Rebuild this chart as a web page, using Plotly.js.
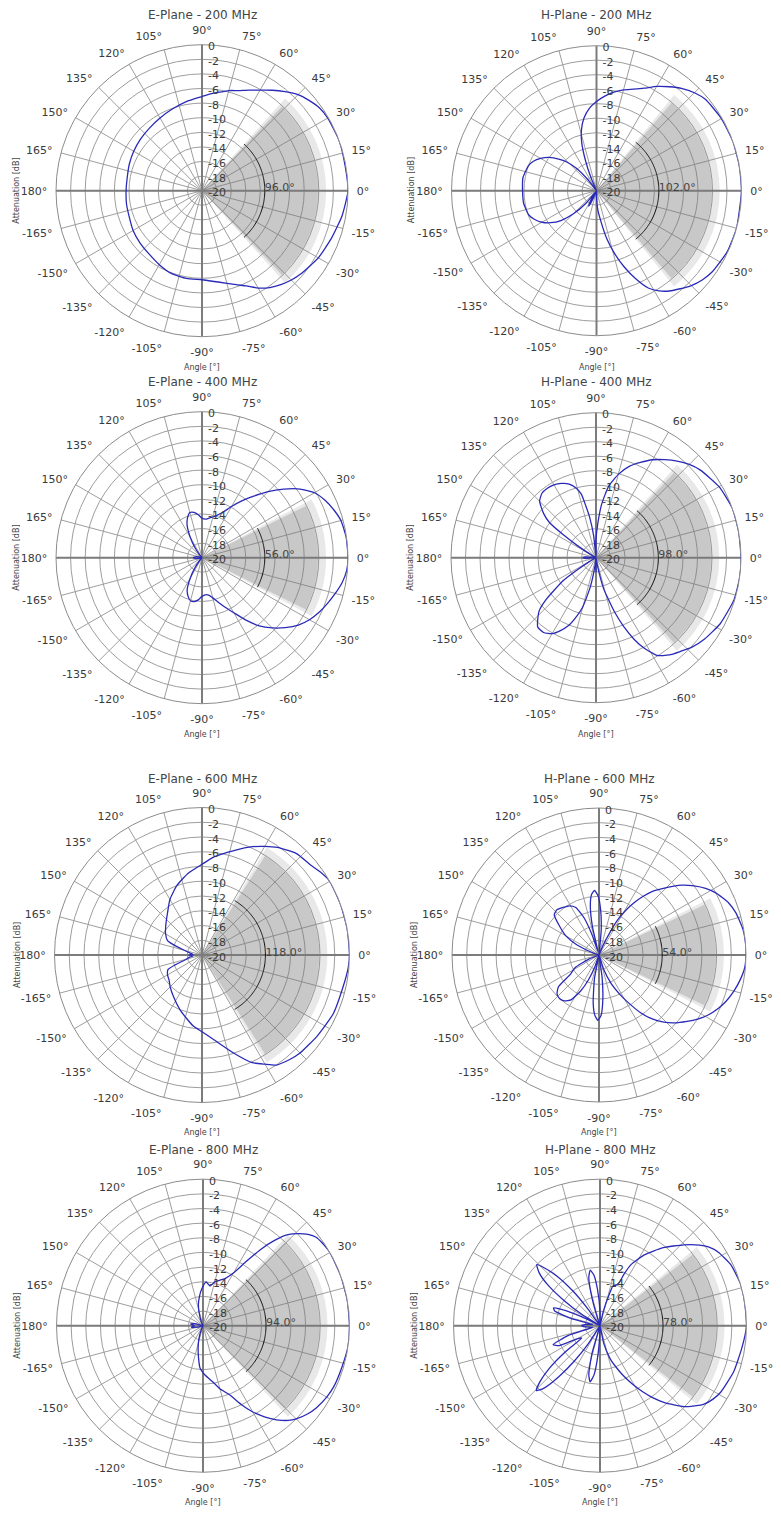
<!DOCTYPE html>
<html><head><meta charset="utf-8">
<script src="https://cdn.plot.ly/plotly-3.0.1.min.js"></script>
<style>html,body{margin:0;padding:0;background:#fff}#chart{width:781px;height:1515px}</style>
</head><body><div id="chart"></div>
<script>
const plotTitles = ['E-Plane - 200 MHz','H-Plane - 200 MHz','E-Plane - 400 MHz','H-Plane - 400 MHz','E-Plane - 600 MHz','H-Plane - 600 MHz','E-Plane - 800 MHz','H-Plane - 800 MHz'];
const beamwidths = [96, 102, 56, 98, 118, 54, 94, 78];
const angleTickVals = [0,15,30,45,60,75,90,105,120,135,150,165,180,195,210,225,240,255,270,285,300,315,330,345];
const angleTickText = ['0°','15°','30°','45°','60°','75°','90°','105°','120°','135°','150°','165°','180°','-165°','-150°','-135°','-120°','-105°','-90°','-75°','-60°','-45°','-30°','-15°'];
const radialTickVals = [-20,-18,-16,-14,-12,-10,-8,-6,-4,-2,0];
const radialTickText = ['-20','-18','-16','-14','-12','-10','-8','-6','-4','-2','0'];
const radialRange = [-20, 0];
const halfPowerLevel = -3;
const arcLevel = -11.4;

const e200Theta = [0,10,20,30,35,40,45,50,55,60,65,70,75,80,85,90,100,110,120,130,140,150,160,170,180,-170,-160,-150,-140,-130,-120,-110,-100,-90,-80,-70,-65,-60,-55,-50,-45,-40,-30,-20,-10,0];
const e200Db    = [0,-0.1,0,-0.1,-0.3,-0.8,-1.4,-2.3,-3.2,-4.1,-4.8,-5.4,-5.8,-6.3,-6.7,-7.1,-7.6,-8.1,-8.5,-8.8,-9.0,-9.2,-9.4,-9.6,-9.6,-9.5,-9.4,-9.1,-8.9,-8.7,-8.3,-7.9,-7.8,-7.8,-7.3,-6.3,-5.6,-4.6,-3.8,-3.2,-2.7,-2.3,-1.6,-1.1,-0.5,0];

const h200Theta = [0,10,20,30,40,45,50,55,60,65,70,75,80,85,90,95,100,104,107,110,113,117,124,128,132,136,140,145,150,155,160,170,180,-170,-160,-155,-150,-145,-140,-135,-130,-126,-121,-117,-113,-108,-95,-90,-86,-82,-78,-74,-70,-66,-62,-58,-54,-50,-45,-40,-35,-25,-15,0];
const h200Db    = [0,0,0,-0.1,-0.4,-0.9,-1.6,-2.5,-3.4,-4.4,-5.1,-5.6,-6.2,-6.9,-7.7,-8.6,-9.9,-11.4,-13.0,-15.5,-18.0,-20,-20,-18,-15.8,-14.3,-13.2,-12.0,-11.1,-10.4,-10.0,-9.7,-9.8,-9.8,-10.1,-10.6,-11.3,-12.3,-13.6,-15.5,-17.8,-20,-18.5,-17.6,-19,-20,-20,-19,-17.3,-15.8,-13.3,-11.0,-8.8,-6.7,-4.8,-3.7,-2.9,-2.3,-1.5,-0.9,-0.5,-0.1,0,0];

const e400Theta = [0,8,15,20,25,30,35,40,45,50,55,60,65,70,75,80,85,90,95,100,105,110,115,120,125,130,140,160,170,180,-170,-160,-140,-130,-125,-120,-115,-110,-105,-100,-95,-90,-85,-80,-75,-70,-65,-60,-55,-50,-45,-40,-35,-30,-25,-20,-15,-10,-5,0];
const e400Db    = [0,-0.05,-0.3,-0.8,-1.4,-2.2,-3.6,-5.4,-7.2,-9.0,-10.5,-11.9,-13.1,-13.8,-14.2,-14.5,-14.7,-14.6,-14.1,-13.7,-13.6,-14.2,-15.2,-16.8,-18.3,-19.5,-20,-20,-19.2,-18.8,-19.2,-20,-20,-19.5,-18.3,-16.8,-15.2,-14.4,-13.9,-13.9,-14.2,-14.7,-14.9,-14.8,-14.3,-13.5,-12.5,-11.3,-9.6,-7.8,-6.4,-5.1,-3.9,-3.0,-2.3,-1.7,-1.1,-0.5,-0.1,0];

const h400Theta = [0,10,20,30,40,45,50,55,60,65,70,75,80,84,87,90,93,96,99,101,103,106,110,115,120,125,130,135,140,143,145,147,150,155,170,176,180,-176,-170,-155,-150,-147,-145,-142,-140,-137,-133,-130,-125,-120,-116,-112,-108,-105,-101,-97,-93,-90,-87,-80,-76,-74,-71,-68,-65,-62,-58,-53,-48,-43,-37,-28,-17,-8,0];
const h400Db    = [0,0,0,-0.4,-1.2,-1.8,-2.6,-3.5,-4.4,-5.5,-6.6,-8.1,-10.0,-12.6,-15.3,-17.5,-20,-17,-14.3,-12.8,-11.0,-10.0,-9.2,-8.7,-8.4,-8.3,-8.4,-9.0,-10.6,-12.0,-14.5,-17,-19.5,-20,-20,-18.5,-18.2,-18.5,-20,-20,-19,-17,-14.5,-12.6,-11.0,-9.3,-8.2,-7.5,-7.4,-7.9,-8.8,-9.9,-11.6,-13.0,-15.9,-19,-20,-18,-20,-19,-15.5,-14.4,-12,-9.7,-7.6,-5.9,-4.1,-3.2,-2.6,-1.9,-1.3,-0.6,-0.1,0,0];

const e600Theta = [0,10,20,30,35,40,47,55,60,65,73,83,90,100,110,120,130,140,150,157,160,165,170,175,180,-175,-170,-165,-160,-157,-150,-143,-135,-125,-112,-105,-97,-90,-82,-72,-65,-60,-56,-50,-45,-35,-24,-13,-5,0];
const e600Db    = [0,0,0,0,-0.4,-0.9,-1.2,-2.2,-3.0,-3.8,-5.2,-6.6,-7.7,-8.8,-10.0,-11.3,-12.7,-13.6,-14.3,-14.9,-15.8,-17.5,-18.3,-18.8,-18.2,-18.8,-18.3,-17.8,-16.2,-15.0,-14.6,-14.4,-13.9,-13.2,-12.0,-11.3,-10.3,-9.6,-8.4,-6.0,-3.9,-2.9,-2.0,-1.5,-1.2,-0.9,-0.5,-0.4,-0.1,0];

const h600Theta = [0,5,10,17,22,25,28,32,36,40,43,46,50,53,56,59,62,64,67,72,82,85,88,91,94,97,100,103,106,109,112,116,121,127,133,138,144,150,155,160,165,-165,-158,-152,-146,-142,-137,-132,-127,-122,-117,-113,-109,-105,-101,-97,-94,-91,-88,-85,-82,-78,-72,-67,-62,-58,-54,-50,-46,-42,-37,-33,-29,-24,-20,-15,-10,-5,0];
const h600Db    = [0,0,-0.1,-0.5,-1.0,-1.5,-2.0,-2.9,-4.0,-5.2,-6.3,-7.4,-8.7,-10.0,-11.4,-12.9,-14.6,-16.5,-18.5,-20,-20,-16.5,-13.8,-11.9,-11.2,-11.7,-13.2,-16.0,-19.5,-17.0,-14.5,-12.8,-12.2,-11.9,-11.6,-11.8,-13.4,-14.8,-16.6,-19,-20,-20,-18.5,-16.3,-15.3,-13.0,-12.2,-12.0,-12.2,-12.8,-14.5,-16.3,-18.5,-20,-16.8,-13.5,-11.8,-11.1,-11.8,-14,-17,-20,-18,-15.8,-13.9,-12.2,-10.2,-8.6,-7.3,-6.2,-5.0,-4.0,-3.1,-2.2,-1.6,-1.0,-0.5,-0.1,0];

const e800Theta = [0,10,20,30,35,38,41,44,47,50,53,56,60,65,70,75,80,86,92,97,102,106,115,140,165,172,180,-172,-165,-140,-115,-106,-102,-98,-94,-88,-80,-75,-69,-64,-60,-56,-52,-48,-45,-40,-36,-30,-25,-16,-8,0];
const e800Db    = [0,0,0,0,-0.2,-0.4,-1.0,-1.9,-3.0,-4.8,-7.0,-9.4,-11.7,-12.9,-13.4,-13.8,-14.5,-14.0,-15.0,-16.0,-17.0,-18.0,-19.5,-20,-19.0,-18.3,-18.8,-18.4,-19.2,-20,-19.5,-17.8,-16.8,-15.6,-14.2,-13.3,-12.2,-11.1,-9.9,-8.0,-6.4,-5.0,-3.7,-2.6,-2.0,-1.3,-0.9,-0.5,-0.3,-0.2,0,0];

const h800Theta = [0,9,17,25,32,36,39,44,51,58,63,65,66,69,72,74,77,80,86,90,94,97,100,103,106,109,120,126,128,131,134,136,139,142,145,148,151,153,156,159,162,166,170,175,180,-175,-168,-163,-158,-154,-150,-146,-143,-140,-137,-134.5,-132,-129,-126,-123,-120,-110,-106,-103,-100,-97,-94,-90,-84,-78,-73,-69,-65,-61,-57,-54,-50,-44,-39,-37,-33,-29,-19,-9,0];
const h800Db    = [0,0,0,-0.3,-1.0,-1.7,-2.5,-4.1,-6.3,-8.6,-10.6,-12.2,-13.6,-14.1,-14.3,-15.9,-18,-20,-20,-18,-15,-13.0,-12.3,-13.2,-16,-19.5,-20,-17,-14,-11,-9,-8.0,-9,-11,-14,-17,-20,-18,-15,-13.2,-13.5,-16,-19,-18,-17.5,-18,-19,-15.5,-13.1,-13.8,-16.5,-17,-14,-11,-8.8,-7.6,-8.5,-11,-14,-17,-20,-20,-16,-13.2,-12.2,-13.2,-16,-19.5,-20,-17.5,-15.3,-14.0,-12.5,-10.9,-9.2,-7.9,-6.3,-4.1,-2.7,-2.2,-1.6,-1.2,-0.7,-0.4,0];

const patternThetas = [e200Theta,h200Theta,e400Theta,h400Theta,e600Theta,h600Theta,e800Theta,h800Theta];
const patternDbs    = [e200Db,h200Db,e400Db,h400Db,e600Db,h600Db,e800Db,h800Db];

// layout geometry (pixels)
const W = 781, H = 1515;
const centers = [[202,190.7],[596.5,190.7],[202,557.7],[596,557.7],[202,955],[599,955],[203,1325.7],[600,1325.7]];
const radii = [146,145,146,145,147.5,147,146.5,146.5];

const font = 'DejaVu Sans, Verdana, sans-serif';
const traces = [];
const layout = {width:W, height:H, margin:{l:0,r:0,t:0,b:0}, paper_bgcolor:'#fff', showlegend:false, annotations:[]};

for (let i = 0; i < 8; i++) {
  const sp = i === 0 ? 'polar' : 'polar' + (i + 1);
  const bw = beamwidths[i];
  const [cx, cy] = centers[i];
  const R = radii[i];
  // shaded half-power sector (light edge + darker core)
  traces.push({type:'barpolar', subplot:sp, r:[halfPowerLevel - radialRange[0]], base:[radialRange[0]], theta:[0], width:[bw],
    marker:{color:'rgba(120,120,120,0.17)', line:{width:0}}, hoverinfo:'skip'});
  traces.push({type:'barpolar', subplot:sp, r:[halfPowerLevel - 1.1 - radialRange[0]], base:[radialRange[0]], theta:[0], width:[bw - 3],
    marker:{color:'rgba(120,120,120,0.28)', line:{width:0}}, hoverinfo:'skip'});
  // main axes through centre
  traces.push({type:'scatterpolar', subplot:sp, mode:'lines', r:[radialRange[1], radialRange[0], radialRange[1]], theta:[0,0,180],
    line:{color:'#7c7c7c', width:2}, hoverinfo:'skip'});
  traces.push({type:'scatterpolar', subplot:sp, mode:'lines', r:[radialRange[1], radialRange[0], radialRange[1]], theta:[90,90,270],
    line:{color:'#7c7c7c', width:2}, hoverinfo:'skip'});
  // beamwidth arc
  const arcT = [], arcR = [];
  for (let a = -bw / 2; a <= bw / 2 + 1e-9; a += 1) { arcT.push(a); arcR.push(arcLevel); }
  traces.push({type:'scatterpolar', subplot:sp, mode:'lines', r:arcR, theta:arcT, line:{color:'#111', width:1}, hoverinfo:'skip'});
  // pattern
  traces.push({type:'scatterpolar', subplot:sp, mode:'lines', r:patternDbs[i], theta:patternThetas[i],
    line:{color:'#2a2ab8', width:1.3, shape:'spline', smoothing:0.5}});
  // beamwidth label
  traces.push({type:'scatterpolar', subplot:sp, mode:'text', r:[arcLevel], theta:[2], text:[bw.toFixed(1) + '°'],
    textposition:'middle right', textfont:{family:font, size:11, color:'#444'}, hoverinfo:'skip'});

  layout[sp] = {
    domain:{x:[(cx - R) / W, (cx + R) / W], y:[1 - (cy + R) / H, 1 - (cy - R) / H]},
    bgcolor:'rgba(0,0,0,0)',
    barmode:'overlay',
    bargap:0,
    radialaxis:{range:radialRange, tickmode:'array', tickvals:radialTickVals, ticktext:radialTickText, angle:90,
      showline:false, gridcolor:'#9e9e9e', gridwidth:1, ticks:'', layer:'above traces',
      tickfont:{family:font, size:11, color:'#3a3a3a'}},
    angularaxis:{rotation:0, direction:'counterclockwise', tickmode:'array', tickvals:angleTickVals, ticktext:angleTickText,
      showline:true, linecolor:'#8c8c8c', linewidth:1, gridcolor:'#9e9e9e', gridwidth:1,
      ticks:'outside', ticklen:6, tickcolor:'rgba(0,0,0,0)',
      tickfont:{family:font, size:11, color:'#3a3a3a'}}
  };
  layout.annotations.push({xref:'paper', yref:'paper', x:cx / W, y:1 - (cy - 176) / H, xanchor:'center', yanchor:'middle',
    text:plotTitles[i], showarrow:false, font:{family:font, size:12, color:'#444'}});
  layout.annotations.push({xref:'paper', yref:'paper', x:cx / W, y:1 - (cy + 177) / H, xanchor:'center', yanchor:'middle',
    text:'Angle [°]', showarrow:false, font:{family:font, size:8, color:'#444'}});
  layout.annotations.push({xref:'paper', yref:'paper', x:(cx - 185) / W, y:1 - cy / H, xanchor:'center', yanchor:'middle',
    text:'Attenuation [dB]', textangle:-90, showarrow:false, font:{family:font, size:8, color:'#444'}});
}

Plotly.newPlot('chart', traces, layout, {staticPlot:true});
</script>
</body></html>
